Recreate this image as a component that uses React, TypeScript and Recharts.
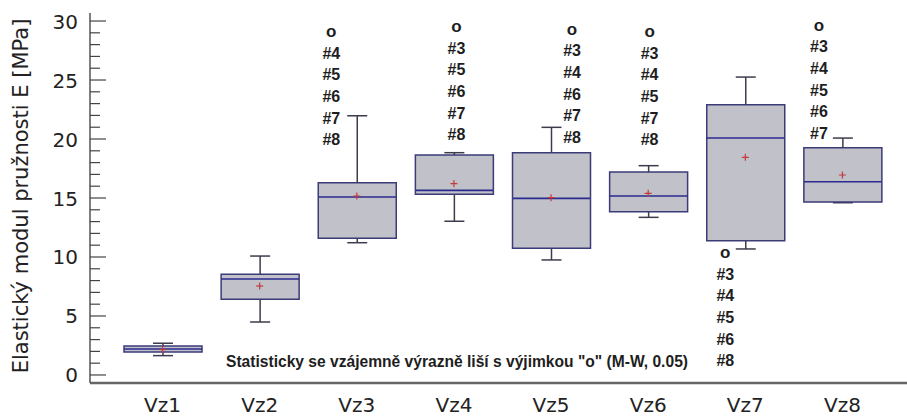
import React from 'react';
import { ComposedChart, Bar, Scatter, XAxis, YAxis } from 'recharts';

// Sample groups
const categories = ['Vz1', 'Vz2', 'Vz3', 'Vz4', 'Vz5', 'Vz6', 'Vz7', 'Vz8'];
// Box plot statistics per group [MPa]
const whiskerLow = [1.64, 4.49, 11.21, 13.03, 9.75, 13.36, 10.68, 14.6];
const quartile1 = [1.95, 6.42, 11.58, 15.31, 10.74, 13.84, 11.38, 14.66];
const medians = [2.2, 8.14, 15.08, 15.65, 14.97, 15.17, 20.08, 16.38];
const quartile3 = [2.45, 8.53, 16.3, 18.64, 18.84, 17.2, 22.9, 19.26];
const whiskerHigh = [2.69, 10.08, 21.97, 18.84, 20.99, 17.74, 25.25, 20.08];
const means = [2.15, 7.54, 15.17, 16.21, 15.03, 15.4, 18.45, 16.95];
// Non-significant pairs marker ("o") and the groups it applies to
const markerAt: (number | null)[] = [null, null, 29.09, 29.52, 29.3, 29.09, 10.36, 29.64];
const groupTags: string[][] = [
  [],
  [],
  ['#4', '#5', '#6', '#7', '#8'],
  ['#3', '#5', '#6', '#7', '#8'],
  ['#3', '#4', '#6', '#7', '#8'],
  ['#3', '#4', '#5', '#7', '#8'],
  ['#3', '#4', '#5', '#6', '#8'],
  ['#3', '#4', '#5', '#6', '#7'],
];
// Y axis ticks: every unit, labelled every 5
const yTicks = Array.from({ length: 31 }, (_, i) => i);
const yDomain: [number, number] = [-0.68, 30.68];

const yTitle = 'Elastický modul pružnosti E [MPa]';
const note = 'Statisticky se vzájemně výrazně liší s výjimkou "o" (M-W, 0.05)';

// horizontal shift of each tag column relative to its box centre
const TAG_DX = [0, 0, -25.5, 2.5, 21, 1.4, -20, -23.5];
const TAG_STEP = 21.6;

const rows = categories.map((name, i) => ({
  name,
  base: whiskerLow[i],
  lowWhisker: quartile1[i] - whiskerLow[i],
  lowBox: medians[i] - quartile1[i],
  highBox: quartile3[i] - medians[i],
  highWhisker: whiskerHigh[i] - quartile3[i],
  mean: means[i],
  marker: markerAt[i],
  tags: groupTags[i],
  idx: i,
}));

const BOX_FILL = '#c1c1c9';
const BOX_EDGE = '#3b3b78';
const MEDIAN = '#2a2a90';
const WHISKER = '#3c3c4c';
const CAP = 10;

const LowWhisker = (p: any) => {
  const { x, y, width, height } = p;
  if (x == null || isNaN(y)) return null;
  const cx = x + width / 2;
  const yb = y + height;
  return (
    <g>
      <line x1={cx} x2={cx} y1={y} y2={yb} stroke={WHISKER} strokeWidth={1.5} />
      <line x1={cx - CAP} x2={cx + CAP} y1={yb} y2={yb} stroke={WHISKER} strokeWidth={1.5} />
    </g>
  );
};

const HighWhisker = (p: any) => {
  const { x, y, width, height } = p;
  if (x == null || isNaN(y)) return null;
  const cx = x + width / 2;
  const yb = y + height;
  return (
    <g>
      <line x1={cx} x2={cx} y1={y} y2={yb} stroke={WHISKER} strokeWidth={1.5} />
      <line x1={cx - CAP} x2={cx + CAP} y1={y} y2={y} stroke={WHISKER} strokeWidth={1.5} />
    </g>
  );
};

const LowBox = (p: any) => {
  const { x, y, width, height } = p;
  if (x == null || isNaN(y)) return null;
  const yb = y + height;
  return (
    <g>
      <rect x={x} y={y} width={width} height={height} fill={BOX_FILL} />
      <path d={`M${x},${y} L${x},${yb} L${x + width},${yb} L${x + width},${y}`} fill="none" stroke={BOX_EDGE} strokeWidth={1.5} />
    </g>
  );
};

const HighBox = (p: any) => {
  const { x, y, width, height } = p;
  if (x == null || isNaN(y)) return null;
  const yb = y + height;
  return (
    <g>
      <rect x={x} y={y} width={width} height={height} fill={BOX_FILL} />
      <path d={`M${x},${yb} L${x},${y} L${x + width},${y} L${x + width},${yb}`} fill="none" stroke={BOX_EDGE} strokeWidth={1.5} />
      <line x1={x} x2={x + width} y1={yb} y2={yb} stroke={MEDIAN} strokeWidth={1.6} />
    </g>
  );
};

const MeanMark = (p: any) => {
  const { cx, cy } = p;
  if (cx == null || cy == null || isNaN(cy)) return null;
  return (
    <g stroke="#c23a3a" strokeWidth={1.2}>
      <line x1={cx - 3.5} x2={cx + 3.5} y1={cy} y2={cy} />
      <line x1={cx} x2={cx} y1={cy - 3.5} y2={cy + 3.5} />
    </g>
  );
};

const TagMark = (p: any) => {
  const { cx, cy, payload } = p;
  if (!payload || !payload.tags || payload.tags.length === 0 || cy == null || isNaN(cy)) return null;
  const x = cx + TAG_DX[payload.idx];
  const lines = ['o', ...payload.tags];
  return (
    <g>
      {lines.map((t: string, i: number) => (
        <text
          key={i}
          x={x}
          y={cy + i * TAG_STEP}
          textAnchor="middle"
          dominantBaseline="central"
          fontFamily="Liberation Sans, Arial, sans-serif"
          fontWeight="bold"
          fontSize={i === 0 ? 17 : 16}
          fill="#1e1e1e"
        >
          {t}
        </text>
      ))}
    </g>
  );
};

const LeftTick = (p: any) => {
  const { x, y, payload } = p;
  const major = payload.value % 5 === 0;
  return (
    <g>
      <line x1={x} x2={x + (major ? 16 : 10)} y1={y} y2={y} stroke="#444" strokeWidth={1.2} />
      {major && (
        <text x={x - 12} y={y + 7.5} textAnchor="end" fontFamily="DejaVu Sans, sans-serif" fontSize={20} fill="#222">
          {payload.value}
        </text>
      )}
    </g>
  );
};

const RightTick = (p: any) => {
  const { x, y, payload } = p;
  const major = payload.value % 5 === 0;
  return (
    <line x1={x} x2={x - (major ? 16 : 10)} y1={y} y2={y} stroke={major ? '#444' : '#888'} strokeWidth={1.2} />
  );
};

const BottomTick = (p: any) => {
  const { x, y, payload } = p;
  return (
    <text x={x} y={y + 29} textAnchor="middle" fontFamily="DejaVu Sans, sans-serif" fontSize={20} fill="#222">
      {payload.value}
    </text>
  );
};

const YTitle = () => (
  <text
    x={28}
    y={196}
    transform="rotate(-90 28 196)"
    textAnchor="middle"
    fontFamily="DejaVu Sans, sans-serif"
    fontSize={21}
    fill="#222"
  >
    {yTitle}
  </text>
);

export default function App() {
  return (
    <div style={{ position: 'absolute', left: 0, top: 0, width: 907, height: 417, overflow: 'hidden', background: '#fff' }}>
      <ComposedChart width={920} height={417} data={rows} margin={{ top: 13, right: 5, bottom: 0, left: 30 }}>
        <XAxis
          xAxisId="bottom"
          dataKey="name"
          height={34}
          padding={{ left: 24, right: 24 }}
          interval={0}
          tickSize={0}
          tickMargin={0}
          tickLine={false}
          axisLine={{ stroke: '#666', strokeWidth: 2.5 }}
          tick={<BottomTick />}
        />
        <XAxis
          xAxisId="top"
          dataKey="name"
          orientation="top"
          height={0}
          padding={{ left: 24, right: 24 }}
          tick={false}
          tickLine={false}
          axisLine={{ stroke: '#555', strokeWidth: 2 }}
        />
        <YAxis
          yAxisId="left"
          type="number"
          width={60}
          domain={yDomain}
          ticks={yTicks}
          interval={0}
          allowDataOverflow
          tickSize={0}
          tickMargin={0}
          tickLine={false}
          axisLine={{ stroke: '#555', strokeWidth: 1.5 }}
          tick={<LeftTick />}
          label={<YTitle />}
        />
        <YAxis
          yAxisId="right"
          orientation="right"
          type="number"
          width={0}
          domain={yDomain}
          ticks={yTicks}
          interval={0}
          allowDataOverflow
          tickSize={0}
          tickMargin={0}
          tickLine={false}
          axisLine={false}
          tick={<RightTick />}
        />
        <Bar xAxisId="bottom" yAxisId="left" dataKey="base" stackId="box" barSize={78} fillOpacity={0} isAnimationActive={false} />
        <Bar xAxisId="bottom" yAxisId="left" dataKey="lowWhisker" stackId="box" barSize={78} shape={<LowWhisker />} isAnimationActive={false} />
        <Bar xAxisId="bottom" yAxisId="left" dataKey="lowBox" stackId="box" barSize={78} shape={<LowBox />} isAnimationActive={false} />
        <Bar xAxisId="bottom" yAxisId="left" dataKey="highBox" stackId="box" barSize={78} shape={<HighBox />} isAnimationActive={false} />
        <Bar xAxisId="bottom" yAxisId="left" dataKey="highWhisker" stackId="box" barSize={78} shape={<HighWhisker />} isAnimationActive={false} />
        <Scatter xAxisId="bottom" yAxisId="left" dataKey="mean" shape={<MeanMark />} isAnimationActive={false} />
        <Scatter xAxisId="bottom" yAxisId="left" dataKey="marker" shape={<TagMark />} isAnimationActive={false} />
      </ComposedChart>
      {/* footnote on the significance test */}
      <svg width={907} height={417} style={{ position: 'absolute', left: 0, top: 0, pointerEvents: 'none' }}>
        <text x={226} y={367} fontFamily="Liberation Sans, Arial, sans-serif" fontWeight="bold" fontSize={15.6} fill="#1e1e1e">
          {note}
        </text>
      </svg>
    </div>
  );
}
